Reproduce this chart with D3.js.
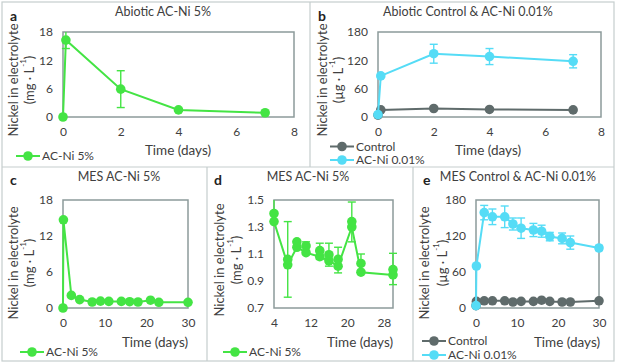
<!DOCTYPE html>
<html>
<head>
<meta charset="utf-8">
<script src="https://cdn.jsdelivr.net/npm/d3@7"></script>
<style>
  body { margin: 0; background: #fff; }
  svg { display: block; font-family: Lato, "Open Sans", sans-serif; }
</style>
</head>
<body>
<div id="chart"></div>
<script>
// Panel a: abiotic AC-Ni 5%
const aDays = [0, 0.1, 2, 4, 7]
const aNi = [0, 16.3, 5.9, 1.5, 0.9]
const aErr = [0, 1.8, 3.9, 0.2, 0.2]

// Panel b: abiotic control & AC-Ni 0.01%
const bDays = [0, 0.1, 2, 4, 7]
const bControl = [4, 15, 18, 16, 15]
const bAcNi = [5, 87, 134, 128, 118]
const bAcNiErr = [0, 0, 20, 17, 14]

// Panel c: MES AC-Ni 5%
const cDays = [0, 0.1, 2, 4, 7, 9, 11, 14, 16, 18, 21, 23, 30]
const cNi = [0, 14.7, 2.1, 1.4, 1.0, 1.15, 1.1, 1.1, 1.05, 1.0, 1.3, 0.95, 0.95]

// Panel d: MES AC-Ni 5%, zoomed from day 4
const dDays = [4, 7, 9, 11, 14, 16, 18, 21, 23, 30]
const dUpper = [1.40, 1.06, 1.19, 1.16, 1.125, 1.095, 1.06, 1.34, 1.03, 0.985]
const dLower = [1.34, 1.02, 1.15, 1.11, 1.08, 1.05, 1.01, 1.30, 0.965, 0.945]
const dErrTop = [1.6, 1.34, 1.19, 1.19, 1.18, 1.18, 1.15, 1.485, 1.10, 1.105]
const dErrBottom = [1.34, 0.78, 1.15, 1.10, 1.06, 1.01, 0.96, 1.19, 0.96, 0.873]

// Panel e: MES control & AC-Ni 0.01%
const eDays = [0, 0.1, 2, 4, 7, 9, 11, 14, 16, 18, 21, 23, 30]
const eControl = [4, 11, 12, 12, 12, 10, 11, 11, 13, 11, 10, 10, 12]
const eAcNi = [4, 70, 159, 152, 152, 140, 133, 130, 128, 119, 116, 109, 100]
const eAcNiErr = [0, 0, 12, 13, 18, 10, 17, 11, 10, 7, 9, 11, 4]

const GREEN = "#44e444"
const CYAN = "#55dcf6"
const GRAY = "#5f6b6b"
const TEXT = "#404040"

const svg = d3.select("#chart").append("svg")
  .attr("width", 619)
  .attr("height", 364)

// panel frames
const frame = svg.append("g").attr("stroke", "#c5cdcd").attr("stroke-width", 1.2).attr("fill", "none")
frame.append("rect").attr("x", 2).attr("y", 2).attr("width", 612).attr("height", 359)
frame.append("line").attr("x1", 2).attr("x2", 614).attr("y1", 167).attr("y2", 167)
frame.append("line").attr("x1", 310).attr("x2", 310).attr("y1", 2).attr("y2", 167)
frame.append("line").attr("x1", 207).attr("x2", 207).attr("y1", 167).attr("y2", 361)
frame.append("line").attr("x1", 413).attr("x2", 413).attr("y1", 167).attr("y2", 361)

function zip(xs, ys, errs) {
  return xs.map((d, i) => ({ x: d, y: ys[i], e: errs ? errs[i] : 0 }))
}

function drawPanel(p) {
  const g = svg.append("g")
  const x = d3.scaleLinear().domain(p.xDomain).range([p.box.l, p.box.r])
  const y = d3.scaleLinear().domain(p.yDomain).range([p.box.b, p.box.t])
  const [yMin, yMax] = p.yDomain

  // titles
  g.append("text").attr("x", p.title[0]).attr("y", p.title[1]).attr("dy", "0.35em")
    .attr("text-anchor", "middle").attr("font-size", 12.5).attr("fill", TEXT).text(p.titleText)
  g.append("text").attr("x", p.label[0]).attr("y", p.label[1]).attr("dy", "0.35em")
    .attr("font-size", 14).attr("font-weight", "bold").attr("fill", "#222").text(p.labelText)

  // plot box
  g.append("rect").attr("x", p.box.l).attr("y", p.box.t)
    .attr("width", p.box.r - p.box.l).attr("height", p.box.b - p.box.t)
    .attr("fill", "none").attr("stroke", "#8c9a9a").attr("stroke-width", 1.5)

  // axes
  const ax = g.append("g").attr("transform", `translate(0,${p.box.b})`)
    .call(d3.axisBottom(x).tickValues(p.xTicks).tickSize(0).tickPadding(10))
  const ay = g.append("g").attr("transform", `translate(${p.box.l},0)`)
    .call(d3.axisLeft(y).tickValues(p.yTicks).tickSize(0).tickPadding(10).tickFormat(p.yFormat || d3.format("d")))
  for (const a of [ax, ay]) {
    a.select(".domain").remove()
    a.selectAll("text").attr("font-size", 12).attr("fill", TEXT).attr("font-family", "Lato, sans-serif")
  }

  // axis titles
  g.append("text").attr("x", p.xTitle[0]).attr("y", p.xTitle[1]).attr("dy", "0.35em")
    .attr("text-anchor", "middle").attr("font-size", 13.5).attr("fill", TEXT).text("Time (days)")
  const yt = g.append("g").attr("transform", `translate(${p.yTitleX[0]},${p.yTitleY}) rotate(-90)`)
  yt.append("text").attr("text-anchor", "middle").attr("dy", "0.35em")
    .attr("font-size", 13).attr("fill", TEXT).text("Nickel in electrolyte")
  const yu = g.append("g").attr("transform", `translate(${p.yTitleX[1]},${p.yTitleY}) rotate(-90)`)
    .append("text").attr("text-anchor", "middle").attr("dy", "0.35em")
    .attr("font-size", 13).attr("fill", TEXT)
  yu.append("tspan").text(`(${p.unit} · L`)
  yu.append("tspan").attr("font-size", 8).attr("dy", "-0.9em").text("-1")
  yu.append("tspan").attr("dy", "0.55em").text(")")

  const line = d3.line().x(d => x(d.x)).y(d => y(d.y))
  const clampY = v => y(Math.max(yMin, Math.min(yMax, v)))

  for (const s of p.series) {
    // error bars
    const bars = (s.bars || s.data.filter(d => d.e > 0).map(d => ({ x: d.x, hi: d.y + d.e, lo: d.y - d.e })))
    const eb = g.append("g").attr("stroke", s.color).attr("stroke-width", 1.4)
    bars.forEach(b => {
      eb.append("line").attr("x1", x(b.x)).attr("x2", x(b.x)).attr("y1", clampY(b.hi)).attr("y2", clampY(b.lo))
      if (b.hi <= yMax) eb.append("line").attr("x1", x(b.x) - 4).attr("x2", x(b.x) + 4).attr("y1", y(b.hi)).attr("y2", y(b.hi))
      if (b.lo >= yMin) eb.append("line").attr("x1", x(b.x) - 4).attr("x2", x(b.x) + 4).attr("y1", y(b.lo)).attr("y2", y(b.lo))
    })

    g.append("path").datum(s.data).attr("fill", "none").attr("stroke", s.color)
      .attr("stroke-width", 2).attr("d", line)

    for (const pts of [s.data].concat(s.extra ? [s.extra] : [])) {
      g.append("g").selectAll("circle").data(pts).join("circle")
        .attr("cx", d => x(d.x)).attr("cy", d => y(d.y)).attr("r", 4.8).attr("fill", s.color)
    }
  }

  // legend
  for (const l of p.legend) {
    g.append("line").attr("x1", l.x).attr("x2", l.x + 24).attr("y1", l.y).attr("y2", l.y)
      .attr("stroke", l.color).attr("stroke-width", 2)
    g.append("circle").attr("cx", l.x + 12).attr("cy", l.y).attr("r", 4.8).attr("fill", l.color)
    g.append("text").attr("x", l.x + 26).attr("y", l.y).attr("dy", "0.35em")
      .attr("font-size", 12).attr("fill", TEXT).text(l.name)
  }
}

drawPanel({
  labelText: "a", label: [10, 16], titleText: "Abiotic AC-Ni 5%", title: [163, 12],
  box: { l: 63, r: 294, t: 32, b: 117 },
  xDomain: [0, 8], xTicks: [0, 2, 4, 6, 8], yDomain: [0, 18], yTicks: [0, 6, 12, 18],
  unit: "mg", yTitleX: [13, 29], yTitleY: 80, xTitle: [178, 150],
  series: [{ color: GREEN, data: zip(aDays, aNi, aErr) }],
  legend: [{ name: "AC-Ni 5%", color: GREEN, x: 16, y: 156 }]
})

drawPanel({
  labelText: "b", label: [318, 16], titleText: "Abiotic Control & AC-Ni 0.01%", title: [468, 12],
  box: { l: 378, r: 601, t: 32, b: 117 },
  xDomain: [0, 8], xTicks: [0, 2, 4, 6, 8], yDomain: [0, 180], yTicks: [0, 60, 120, 180],
  unit: "µg", yTitleX: [322, 338], yTitleY: 80, xTitle: [488, 150],
  series: [
    { color: GRAY, data: zip(bDays, bControl) },
    { color: CYAN, data: zip(bDays, bAcNi, bAcNiErr) }
  ],
  legend: [
    { name: "Control", color: GRAY, x: 330, y: 146.5 },
    { name: "AC-Ni 0.01%", color: CYAN, x: 330, y: 160 }
  ]
})

drawPanel({
  labelText: "c", label: [10, 180], titleText: "MES AC-Ni 5%", title: [119, 177],
  box: { l: 63, r: 188, t: 200, b: 308 },
  xDomain: [0, 30], xTicks: [0, 10, 20, 30], yDomain: [0, 18], yTicks: [0, 6, 12, 18],
  unit: "mg", yTitleX: [13, 29], yTitleY: 263, xTitle: [155, 342],
  series: [{ color: GREEN, data: zip(cDays, cNi) }],
  legend: [{ name: "AC-Ni 5%", color: GREEN, x: 20, y: 352 }]
})

drawPanel({
  labelText: "d", label: [214, 180], titleText: "MES AC-Ni 5%", title: [308, 177],
  box: { l: 274, r: 393, t: 200, b: 308 },
  xDomain: [4, 30], xTicks: [4, 12, 20, 28], yDomain: [0.7, 1.5], yTicks: [0.7, 0.9, 1.1, 1.3, 1.5],
  yFormat: d3.format(".1f"),
  unit: "mg", yTitleX: [219, 236], yTitleY: 260, xTitle: [360, 342],
  series: [{
    color: GREEN, data: zip(dDays, dLower), extra: zip(dDays, dUpper),
    bars: dDays.map((d, i) => ({ x: d, hi: dErrTop[i], lo: dErrBottom[i] }))
  }],
  legend: [{ name: "AC-Ni 5%", color: GREEN, x: 223, y: 352 }]
})

drawPanel({
  labelText: "e", label: [423, 180], titleText: "MES Control & AC-Ni 0.01%", title: [518, 177],
  box: { l: 476, r: 599, t: 200, b: 308 },
  xDomain: [0, 30], xTicks: [0, 10, 20, 30], yDomain: [0, 180], yTicks: [0, 60, 120, 180],
  unit: "µg", yTitleX: [424, 442], yTitleY: 263, xTitle: [567, 342],
  series: [
    { color: GRAY, data: zip(eDays, eControl) },
    { color: CYAN, data: zip(eDays, eAcNi, eAcNiErr) }
  ],
  legend: [
    { name: "Control", color: GRAY, x: 422, y: 341 },
    { name: "AC-Ni 0.01%", color: CYAN, x: 422, y: 355 }
  ]
})
</script>
</body>
</html>
